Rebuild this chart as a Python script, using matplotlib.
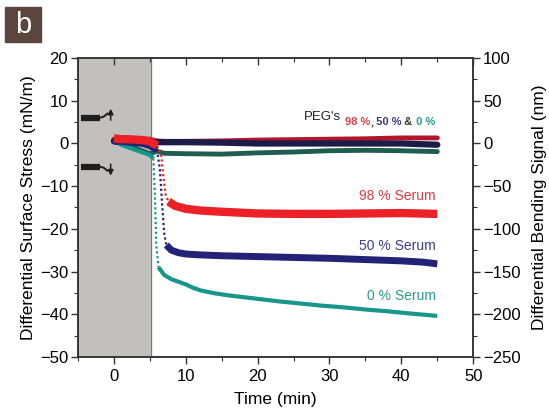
import numpy as np
import matplotlib
matplotlib.use('Agg')
import matplotlib.pyplot as plt
from matplotlib.patches import Rectangle
from matplotlib.ticker import MultipleLocator

plt.rcParams['font.family'] = ['Liberation Sans', 'DejaVu Sans']

# values (time in min, stress in mN/m)
t_red = [0, 1, 2, 3, 4, 5, 6, 6.6, 6.9, 7.2, 7.6, 8.5, 10, 12, 15, 20, 25, 30, 35, 40, 45]
s_red = [1.2, 1.0, 1.0, 0.9, 0.8, 0.5, -0.5, -3, -8, -12, -13.6, -14.6, -15.3, -15.7, -16.0, -16.4, -16.5, -16.5, -16.4, -16.3, -16.5]

t_navy = [0, 1, 2, 3, 4, 5, 6, 6.4, 6.7, 7.0, 7.3, 8, 9, 10, 12, 15, 20, 25, 30, 35, 40, 43, 45]
s_navy = [0.5, 0.5, 0.3, 0.2, 0, -0.5, -1.5, -6, -14, -21, -23.8, -25.0, -25.6, -25.9, -26.1, -26.3, -26.5, -26.7, -26.9, -27.2, -27.5, -27.8, -28.2]

t_teal = [0, 1, 2, 3, 4, 5, 5.5, 5.7, 5.9, 6.2, 7, 8, 9, 10, 11, 12, 14, 16, 18, 20, 23, 26, 29, 32, 35, 38, 41, 43, 45]
s_teal = [0.5, -0.3, -0.9, -1.5, -2.1, -2.7, -3.5, -12, -24, -29, -30.8, -31.8, -32.4, -33.0, -33.8, -34.4, -35.1, -35.6, -36.0, -36.4, -37.0, -37.5, -38.0, -38.4, -38.9, -39.3, -39.8, -40.1, -40.4]

t_peg = [0, 2, 4, 5, 6, 7, 10, 15, 20, 25, 30, 35, 40, 45]
s_peg_red = [1.0, 1.2, 1.0, 1.0, 0.6, 0.5, 0.5, 0.6, 0.8, 0.9, 1.0, 1.1, 1.3, 1.3]
s_peg_navy = [0.5, 0.6, 0.4, 0.3, 0.3, 0.3, 0.3, 0.2, 0.0, 0.0, 0.0, 0.0, 0.0, -0.3]
s_peg_teal = [0.8, -0.4, -1.8, -2.4, -1.8, -2.3, -2.4, -2.5, -2.2, -2.0, -1.7, -1.6, -1.7, -1.9]

c_red, c_navy, c_teal = '#ec2128', '#222376', '#16978a'
c_peg_red, c_peg_navy, c_peg_teal = '#b3162a', '#1b1c48', '#1f5d50'

fig = plt.figure(figsize=(5.49, 4.15), dpi=100)
ax = fig.add_axes([0.142, 0.140, 0.720, 0.720])

ax.axvspan(-5, 5.1, color='#c2c0be', zorder=0)
ax.axvline(5.1, color='#7a7a7a', lw=0.8, zorder=0.5)


def draw(t, s, color, lw, z):
    t = np.array(t, float)
    s = np.array(s, float)
    slope = np.abs(np.diff(s) / np.diff(t))
    steep = np.where(slope > 2.5)[0]
    if len(steep) == 0:
        ax.plot(t, s, color=color, lw=lw, solid_capstyle='round', zorder=z)
        return
    a, b = steep[0], steep[-1] + 1
    ax.plot(t[:a + 1], s[:a + 1], color=color, lw=lw, solid_capstyle='butt', zorder=z)
    ax.plot(t[a:b + 1], s[a:b + 1], color=color, lw=1.6, ls=(0, (1, 1.2)), zorder=z)
    ax.plot(t[b:], s[b:], color=color, lw=lw, solid_capstyle='butt', zorder=z)


draw(t_peg, s_peg_teal, c_peg_teal, 3.5, 3)
draw(t_peg, s_peg_navy, c_peg_navy, 4.5, 3.2)
draw(t_peg, s_peg_red, c_peg_red, 3.5, 3.1)
draw(t_teal, s_teal, c_teal, 3.0, 4)
draw(t_navy, s_navy, c_navy, 5.0, 4.1)
draw(t_red, s_red, c_red, 6.0, 4.2)

# cantilever sketches
ink = '#1e1e1e'
ax.plot([-4.6, -2.0], [6.0, 6.0], color=ink, lw=4.5, solid_capstyle='butt')
ax.plot([-2.0, -1.4, -0.9], [6.0, 6.3, 7.0], color=ink, lw=1.4)
ax.annotate('', xy=(-0.45, 8.8), xytext=(-0.45, 4.8),
            arrowprops=dict(arrowstyle='-|>', color=ink, lw=1.1, mutation_scale=8))
ax.plot([-4.6, -2.0], [-5.4, -5.4], color=ink, lw=4.5, solid_capstyle='butt')
ax.plot([-2.0, -1.4, -0.9], [-5.4, -5.7, -6.4], color=ink, lw=1.4)
ax.annotate('', xy=(-0.45, -8.2), xytext=(-0.45, -4.2),
            arrowprops=dict(arrowstyle='-|>', color=ink, lw=1.1, mutation_scale=8))

# labels on curves
ax.text(44.8, -12.3, '98 % Serum', color='#e8383e', fontsize=10, ha='right', va='center')
ax.text(44.8, -24.0, '50 % Serum', color='#3b3b8c', fontsize=10, ha='right', va='center')
ax.text(44.8, -35.8, '0 % Serum', color='#2a9a90', fontsize=10, ha='right', va='center')
ax.text(26.4, 6.3, "PEG's", color='#222222', fontsize=9.5, ha='left', va='center')
x0 = 32.1
for txt, col in [('98 %', '#e33a48'), (',', '#333333'), (' 50 %', '#3b3b7a'),
                 (' &', '#333333'), (' 0 %', '#2a9a90')]:
    tx = ax.text(x0, 5.0, txt, color=col, fontsize=8, fontweight='bold',
                 ha='left', va='center')
    fig.canvas.draw()
    bb = tx.get_window_extent().transformed(ax.transData.inverted())
    x0 = bb.x1

ax.set_xlim(-5, 50)
ax.set_ylim(-50, 20)
ax.xaxis.set_major_locator(MultipleLocator(10))
ax.xaxis.set_minor_locator(MultipleLocator(5))
ax.yaxis.set_major_locator(MultipleLocator(10))
ax.yaxis.set_minor_locator(MultipleLocator(5))
ax.tick_params(which='both', direction='out', labelsize=12, color='#333333')
ax.tick_params(which='major', length=5, width=1)
ax.tick_params(which='minor', length=3, width=0.8)
ax.tick_params(axis='x', which='both', top=True)
ax.tick_params(axis='y', pad=2)
ax.set_xlabel('Time (min)', fontsize=12.5, labelpad=6)
ax.set_ylabel('Differential Surface Stress (mN/m)', fontsize=12.5, labelpad=3)
for sp in ax.spines.values():
    sp.set_color('#333333')
    sp.set_linewidth(1.1)

ax2 = ax.twinx()
ax2.set_ylim(-250, 100)
ax2.yaxis.set_major_locator(MultipleLocator(50))
ax2.yaxis.set_minor_locator(MultipleLocator(25))
ax2.tick_params(which='both', direction='out', labelsize=12, color='#333333', pad=2)
ax2.tick_params(which='major', length=5, width=1)
ax2.tick_params(which='minor', length=3, width=0.8)
ax2.set_ylabel('Differential Bending Signal (nm)', fontsize=12.5, labelpad=8)
for sp in ax2.spines.values():
    sp.set_color('#333333')
    sp.set_linewidth(1.1)

# top ticks point inward
for tk in ax.xaxis.get_major_ticks() + ax.xaxis.get_minor_ticks():
    tk.tick2line.set_marker(3)

fig.patches.append(Rectangle((5 / 549, 1 - 42 / 415), 36 / 549, 35 / 415,
                             transform=fig.transFigure, color='#5b463d', zorder=5))
fig.text(23 / 549, 1 - 25 / 415, 'b', color='white', fontsize=21,
         ha='center', va='center', zorder=6)

fig.savefig('out.png', dpi=100)
